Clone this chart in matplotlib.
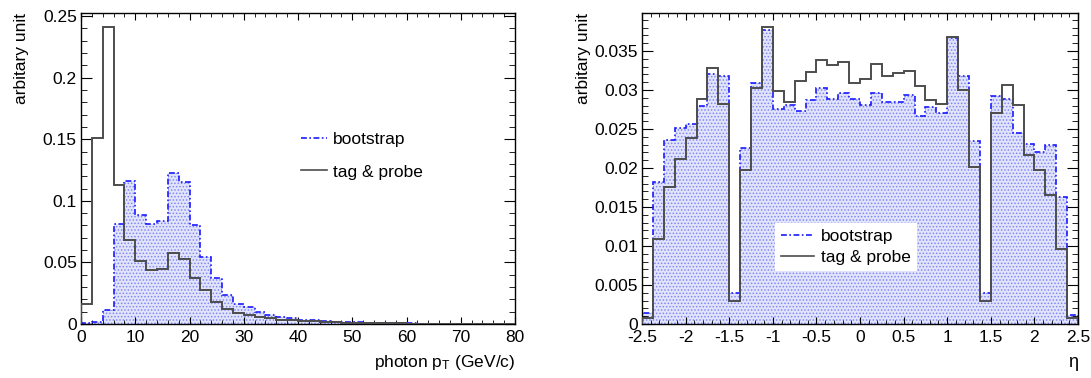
import numpy as np
import matplotlib
matplotlib.use('Agg')
import matplotlib.pyplot as plt
from matplotlib.lines import Line2D
from matplotlib.ticker import MultipleLocator, FuncFormatter

plt.rcParams['font.family'] = ['Liberation Sans', 'DejaVu Sans']
plt.rcParams['mathtext.fontset'] = 'custom'
plt.rcParams['mathtext.rm'] = 'Liberation Sans'
plt.rcParams['mathtext.it'] = 'Liberation Sans:italic'
plt.rcParams['hatch.linewidth'] = 0.7

# photon pT, 2 GeV bins from 0 to 80
pt_edges = np.arange(0, 82, 2)
pt_boot = [0.0010, 0.0020, 0.0110, 0.0810, 0.1165, 0.0885, 0.0810, 0.0840, 0.1230, 0.1150,
           0.0802, 0.0546, 0.0371, 0.0236, 0.0165, 0.0135, 0.0095, 0.0072, 0.0055, 0.0045,
           0.0036, 0.0030, 0.0025, 0.0020, 0.0016, 0.0013, 0.0010, 0.0008, 0.0007, 0.0006,
           0.0005, 0.0004, 0.0004, 0.0003, 0.0003, 0.0002, 0.0002, 0.0002, 0.0001, 0.0001]
pt_tp = [0.0165, 0.1510, 0.2408, 0.1126, 0.0682, 0.0514, 0.0438, 0.0450, 0.0574, 0.0526,
         0.0372, 0.0277, 0.0175, 0.0119, 0.0092, 0.0075, 0.0057, 0.0045, 0.0036, 0.0030,
         0.0025, 0.0021, 0.0017, 0.0014, 0.0012, 0.0010, 0.0008, 0.0007, 0.0006, 0.0005,
         0.0004, 0.0004, 0.0003, 0.0003, 0.0002, 0.0002, 0.0002, 0.0001, 0.0001, 0.0001]

# photon eta, 0.125 bins from -2.5 to 2.5
eta_edges = np.linspace(-2.5, 2.5, 41)
eta_boot = [0.0014, 0.0182, 0.0236, 0.0251, 0.0256, 0.0279, 0.0320, 0.0318, 0.0040, 0.0225,
            0.0309, 0.0377, 0.0276, 0.0281, 0.0273, 0.0287, 0.0302, 0.0288, 0.0296, 0.0288,
            0.0281, 0.0296, 0.0285, 0.0285, 0.0293, 0.0267, 0.0278, 0.0270, 0.0367, 0.0318,
            0.0235, 0.0040, 0.0292, 0.0289, 0.0245, 0.0231, 0.0220, 0.0229, 0.0163, 0.0012]
eta_tp = [0.0008, 0.0109, 0.0176, 0.0211, 0.0239, 0.0288, 0.0328, 0.0282, 0.0030, 0.0198,
          0.0302, 0.0381, 0.0299, 0.0285, 0.0312, 0.0323, 0.0338, 0.0332, 0.0336, 0.0309,
          0.0314, 0.0333, 0.0318, 0.0322, 0.0324, 0.0305, 0.0287, 0.0282, 0.0368, 0.0300,
          0.0201, 0.0030, 0.0271, 0.0306, 0.0281, 0.0217, 0.0198, 0.0166, 0.0096, 0.0008]

blue = '#1a1aff'
fillc = '#e2e4fc'
hatchc = '#7f88f5'
tpc = '#4d4d4d'
dashdot = (0, (3.5, 1.5, 1, 1.5))

fig = plt.figure(figsize=(10.91, 3.78), dpi=100)
W, H = 1091.0, 378.0
ax1 = fig.add_axes([81 / W, 54 / H, 434 / W, 311 / H])
ax2 = fig.add_axes([642 / W, 54 / H, 436 / W, 311 / H])


def draw(ax, edges, boot, tp):
    ax.stairs(boot, edges, fill=True, facecolor=fillc, edgecolor=hatchc,
              hatch='.....', linewidth=0, zorder=1)
    ax.stairs(boot, edges, color=blue, linewidth=1.2, linestyle=dashdot, zorder=2)
    ax.stairs(tp, edges, color=tpc, linewidth=1.4, zorder=3)


def style(ax):
    ax.tick_params(which='both', direction='in', top=True, right=True, labelsize=12.5)
    ax.tick_params(axis='x', which='major', length=5, pad=4)
    ax.tick_params(axis='x', which='minor', length=2.8)
    ax.tick_params(axis='y', which='major', length=8, pad=3)
    ax.tick_params(axis='y', which='minor', length=4.3)
    ax.yaxis.set_major_formatter(FuncFormatter(lambda v, p: '%g' % round(v, 6)))
    ax.xaxis.set_major_formatter(FuncFormatter(lambda v, p: '%g' % round(v, 6)))
    for s in ax.spines.values():
        s.set_linewidth(1.0)


draw(ax1, pt_edges, pt_boot, pt_tp)
ax1.set_xlim(0, 80)
ax1.set_ylim(0, 0.2525)
ax1.xaxis.set_major_locator(MultipleLocator(10))
ax1.xaxis.set_minor_locator(MultipleLocator(2))
ax1.yaxis.set_major_locator(MultipleLocator(0.05))
ax1.yaxis.set_minor_locator(MultipleLocator(0.01))
style(ax1)
ax1.set_ylabel('arbitary unit', fontsize=12.5, loc='top', labelpad=10)
ax1.set_xlabel(r'photon p$_{\mathrm{T}}$ (GeV/c)', fontsize=12.5, loc='right', labelpad=6)

draw(ax2, eta_edges, eta_boot, eta_tp)
ax2.set_xlim(-2.5, 2.5)
ax2.set_ylim(0, 0.03987)
ax2.xaxis.set_major_locator(MultipleLocator(0.5))
ax2.xaxis.set_minor_locator(MultipleLocator(0.1))
ax2.yaxis.set_major_locator(MultipleLocator(0.005))
ax2.yaxis.set_minor_locator(MultipleLocator(0.001))
style(ax2)
ax2.set_ylabel('arbitary unit', fontsize=12.5, loc='top', labelpad=2)
ax2.set_xlabel('η', fontsize=13, loc='right', labelpad=7)

handles = [Line2D([], [], color=blue, linewidth=1.2, linestyle=dashdot),
           Line2D([], [], color=tpc, linewidth=1.2)]
labels = ['bootstrap', 'tag & probe']

ax1.legend(handles, labels, loc='upper left', bbox_to_anchor=(0.49, 0.64),
           frameon=False, fontsize=12.5, handlelength=1.5, handletextpad=0.35,
           labelspacing=1.0, borderaxespad=0)

leg = ax2.legend(handles, labels, loc='upper left', bbox_to_anchor=(0.305, 0.325),
                 frameon=True, fancybox=False, fontsize=12.5, handlelength=1.9,
                 handletextpad=0.4, labelspacing=0.35, borderaxespad=0, borderpad=0.35)
leg.get_frame().set_facecolor('white')
leg.get_frame().set_edgecolor('none')
leg.get_frame().set_alpha(1.0)

fig.savefig('out.png', dpi=100)
